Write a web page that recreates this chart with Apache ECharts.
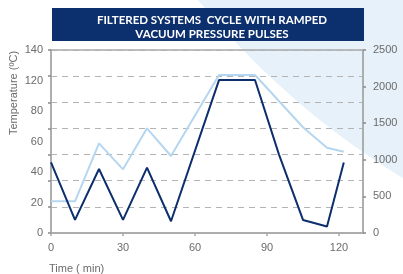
<!DOCTYPE html>
<html>
<head>
<meta charset="utf-8">
<script src="https://cdn.jsdelivr.net/npm/echarts@6/dist/echarts.min.js"></script>
<style>
  html, body { margin: 0; padding: 0; background: #fff; }
  #chart { width: 403px; height: 274px; }
</style>
</head>
<body>
<div id="chart"></div>
<script>
  // time (min) and temperature (ºC), left axis
  var tempTime = [0, 10, 20, 30, 40, 50, 70, 85, 95, 105, 115, 122];
  var tempValues = [54, 10, 49, 10, 50, 9, 117, 117, 60, 10, 5, 54];
  // time (min) and vacuum pressure, right axis
  var pressTime = [0, 10, 20, 30, 40, 50, 70, 85, 105, 115, 122];
  var pressValues = [433, 433, 1225, 870, 1430, 1052, 2158, 2158, 1444, 1165, 1110];
  // left labels as printed in the original (evenly spaced, no 100)
  var tempLabels = ['0', '20', '40', '60', '80', '120', '140'];

  var axisGray = '#a9a9a9';
  var labelGray = '#6b6b6b';
  var font = 'Liberation Sans, Arial, sans-serif';

  // curved light blue wedge in the top right corner (decoration)
  function wedgePoints() {
    var p0 = [198, 0], c = [290, 110], p1 = [403, 178];
    var pts = [];
    for (var i = 0; i <= 30; i++) {
      var t = i / 30, u = 1 - t;
      pts.push([
        u * u * p0[0] + 2 * u * t * c[0] + t * t * p1[0],
        u * u * p0[1] + 2 * u * t * c[1] + t * t * p1[1]
      ]);
    }
    pts.push([403, 0]);
    return pts;
  }

  var chart = echarts.init(document.getElementById('chart'));

  var option = {
    animation: false,
    title: {
      text: 'FILTERED SYSTEMS  CYCLE WITH RAMPED\nVACUUM PRESSURE PULSES',
      left: 207,
      top: 9,
      textAlign: 'center',
      textStyle: {
        color: '#fff',
        fontFamily: 'Lato, sans-serif',
        fontWeight: 'bold',
        fontSize: 11.5,
        lineHeight: 13.5
      }
    },
    graphic: [
      {
        type: 'polygon',
        z: -10,
        silent: true,
        shape: { points: wedgePoints() },
        style: { fill: '#e7f1f9' }
      },
      {
        type: 'rect',
        z: -5,
        silent: true,
        shape: { x: 52, y: 8, width: 312, height: 33 },
        style: { fill: '#0c2f6d' }
      }
    ],
    grid: {
      left: 51,
      right: 40,
      top: 50,
      bottom: 41,
      outerBoundsMode: 'none',
      show: true,
      borderColor: axisGray,
      borderWidth: 1.5,
      backgroundColor: 'transparent'
    },
    xAxis: {
      type: 'value',
      min: 0,
      max: 130,
      interval: 30,
      name: 'Time ( min)',
      nameLocation: 'start',
      nameGap: 0,
      nameMoveOverlap: false,
      nameTextStyle: {
        color: labelGray,
        fontFamily: font,
        fontSize: 11,
        align: 'left',
        verticalAlign: 'top',
        padding: [30, 0, 0, -2]
      },
      axisLine: { lineStyle: { color: axisGray, width: 1.5 } },
      axisTick: { show: true, length: 3, lineStyle: { color: axisGray, width: 1.5 } },
      axisLabel: {
        color: labelGray,
        fontFamily: font,
        fontSize: 11,
        margin: 9,
        showMaxLabel: false
      },
      splitLine: { show: false }
    },
    yAxis: [
      {
        type: 'value',
        min: 0,
        max: 140,
        interval: 20,
        position: 'left',
        axisLine: { show: true, lineStyle: { color: axisGray, width: 1.5 } },
        axisTick: { show: true, length: 3, lineStyle: { color: '#8a8a8a', width: 1.5 } },
        axisLabel: { show: false },
        splitLine: {
          show: true,
          lineStyle: { color: '#b3b3b3', type: [6, 5], width: 1.2 }
        }
      },
      {
        type: 'value',
        min: 0,
        max: 2500,
        interval: 500,
        position: 'right',
        axisLine: { show: true, lineStyle: { color: axisGray, width: 1.5 } },
        axisTick: { show: true, length: 3, lineStyle: { color: '#8a8a8a', width: 1.5 } },
        axisLabel: {
          color: labelGray,
          fontFamily: font,
          fontSize: 11,
          margin: 10,
          formatter: function (v) { return String(v); }
        },
        splitLine: { show: false }
      },
      {
        // labels only, placed evenly like the source picture
        type: 'value',
        min: 0,
        max: 6,
        interval: 1,
        position: 'left',
        name: 'Temperature (ºC)',
        nameLocation: 'middle',
        nameGap: 32,
        nameRotate: 90,
        nameMoveOverlap: false,
        nameTextStyle: {
          color: labelGray,
          fontFamily: font,
          fontSize: 11,
          padding: [0, 0, 0, 97]
        },
        axisLine: { show: false },
        axisTick: { show: false },
        splitLine: { show: false },
        axisLabel: {
          color: labelGray,
          fontFamily: font,
          fontSize: 11,
          margin: 8,
          formatter: function (v) { return tempLabels[v]; }
        }
      }
    ],
    series: [
      {
        name: 'Pressure',
        type: 'line',
        yAxisIndex: 1,
        data: pressTime.map(function (t, i) { return [t, pressValues[i]]; }),
        symbol: 'none',
        lineStyle: { color: '#b5d6f0', width: 2 }
      },
      {
        name: 'Temperature',
        type: 'line',
        yAxisIndex: 0,
        data: tempTime.map(function (t, i) { return [t, tempValues[i]]; }),
        symbol: 'none',
        lineStyle: { color: '#0d2e6c', width: 2 }
      }
    ]
  };

  chart.setOption(option);
</script>
</body>
</html>
